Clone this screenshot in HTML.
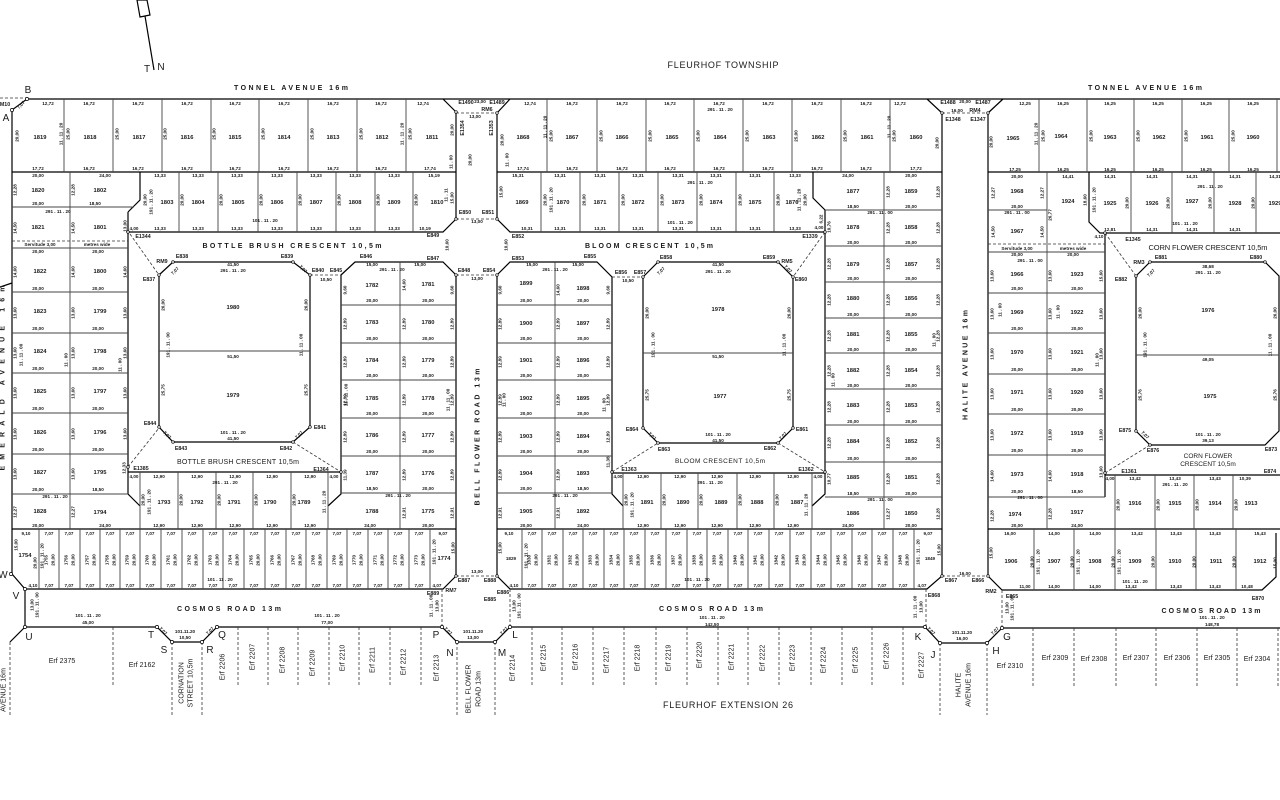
<!DOCTYPE html>
<html><head><meta charset="utf-8"><style>
body{margin:0;background:#fff}
svg{display:block}
text{font-family:"Liberation Sans",Arial,sans-serif;text-anchor:middle;fill:#1a1a1a}
.n{font-size:5.8px;font-weight:bold}
.m{font-size:4.6px;font-weight:bold}
.e{font-size:5.3px;font-weight:bold}
.L{font-size:10px}
.s{font-size:7px;font-weight:bold}
.E{font-size:7px}
.r{dominant-baseline:central}
.k{stroke:#000;stroke-width:1.2;fill:none}
.g{stroke:#444;stroke-width:0.9;fill:none}
.d{stroke:#333;stroke-width:0.8;fill:none;stroke-dasharray:3 2}
circle{fill:#fff;stroke:#000;stroke-width:0.7}
</style></head><body>
<svg width="1280" height="800" viewBox="0 0 1280 800" xmlns="http://www.w3.org/2000/svg">
<rect width="1280" height="800" fill="#fff"/>

<!-- North arrow -->
<path class="k" stroke-width="1" d="M137 0L147 0L150 15L140 17Z M145 16L154 70"/>
<text class="L" x="147" y="72">T</text><text class="L" x="161" y="70">N</text>

<text x="723" y="68" style="font-size:9px" textLength="111">FLEURHOF TOWNSHIP</text>
<text class="s" x="291" y="90" textLength="114" lengthAdjust="spacing">TONNEL AVENUE 16m</text>
<text class="s" x="1145" y="90" textLength="114" lengthAdjust="spacing">TONNEL AVENUE 16m</text>
<text class="L" x="28" y="93">B</text><text class="L" x="6" y="121">A</text>
<text class="e" x="5" y="106">M10</text>

<!-- THICK LINES -->
<path class="k" d="M27 99H1280
M12 574V110L27 99
M443 99L456 112V219L443 232H128
M128 212V494L140 506
M140 172V200L128 212
M12 172H456
M12 529H456
M341 275L355 262H443L456 275V576L443 589H25L12 574
M341 275V494L328 506
M128 472H341
M159 275L173 262H293L310 275V427L293 442H173L159 427Z
M497 113L510 99
M497 113V219L510 232H825
M813 172V198L825 210V494L812 506
M927 99L942 113V576L927 589H510L497 576V275L510 262H597L612 277V494L623 506
M612 473H825
M497 172H942
M497 529H942
M643 277L658 262H778L793 277V428L778 443H658L643 428Z
M988 113L1003 99
M988 113V576L1002 590H1262L1276 577V533
M988 172H1280
M1089 172V222L1100 233H1280
M1105 233V497
M1105 475H1280
M988 529H1280
M1136 276L1150 262H1265L1279 276V431L1265 445H1150L1136 431Z
M25 589V627H157L172 642H202L217 627H442L457 642H495L510 627H925L940 643H987L1002 628H1280
M25 627L10 642
M0 287L12 283"/>

<!-- GRAY LOT LINES -->
<path class="g" d="M64 99V172M113 99V172M162 99V172M211 99V172M259 99V172M308 99V172M357 99V172M406 99V172
M179 172V232M218 172V232M258 172V232M297 172V232M336 172V232M375 172V232M413 172V232
M70 172V529M12 207H134M12 248H128
M12 292H128M12 333H128M12 373H128M12 413H128M12 454H128M12 494H128
M400 262V529
M341 305H456M341 343H456M341 380H456M341 418H456M341 456H456M341 493H456
M159 351H310
M140 472V529M178 472V529M216 472V529M253 472V529M291 472V529M328 472V529
M39 529V589M59 529V589M80 529V589M100 529V589M120 529V589M140 529V589M161 529V589M182 529V589M203 529V589M223 529V589M244 529V589M265 529V589M286 529V589M306 529V589M327 529V589M347 529V589M368 529V589M388 529V589M409 529V589M430 529V589
M547 99V172M597 99V172M646 99V172M694 99V172M743 99V172M792 99V172M841 99V172M890 99V172
M541 172V232M580 172V232M619 172V232M658 172V232M697 172V232M736 172V232M774 172V232
M884 172V529
M825 210H942M825 246H942M825 282H942M825 318H942M825 353H942M825 389H942M825 425H942M825 462H942M825 497H942
M555 262V529
M497 305H612M497 343H612M497 380H612M497 418H612M497 456H612M497 493H612
M643 353H793
M623 473V529M661 473V529M698 473V529M737 473V529M774 473V529M812 473V529
M522 529V589M542 529V589M563 529V589M583 529V589M604 529V589M624 529V589M645 529V589M666 529V589M687 529V589M707 529V589M728 529V589M748 529V589M769 529V589M790 529V589M811 529V589M831 529V589M852 529V589M872 529V589M893 529V589M914 529V589
M1039 99V172M1087 99V172M1134 99V172M1182 99V172M1229 99V172M1277 99V172
M1047 172V529M988 210H1047M988 252H1105
M1131 172V233M1172 172V233M1214 172V233M1256 172V233
M988 293H1105M988 333H1105M988 374H1105M988 414H1105M988 455H1105M988 497H1105
M1136 355H1279
M1115 475V529M1155 475V529M1194 475V529M1233 475V529
M1034 529V590M1074 529V590M1115 529V590M1156 529V590M1196 529V590M1236 529V590"/>

<!-- DASHED -->
<path class="d" d="M0 98H27M12 241H128M988 244H1105
M310 275H341M130 234L159 275M128 467L159 428M293 442L341 472
M456 113H497M456 219H497M456 275H497M456 576H497
M612 277H643M825 232L793 277M612 472L658 443M778 443L825 472
M942 113H988M942 576H988M1105 233L1136 276M1105 473L1150 445
M442 589V627M510 589V627M926 589V627M1002 590V628
M10 642V715M172 642V715M202 642V715M457 642V715M495 642V715M940 643V715M987 643V715
M113 627V687M238 627V687M268 627V687M298 627V687M329 627V687M359 627V687M390 627V687M421 627V687
M532 627V687M562 627V687M593 627V687M624 627V687M656 627V687M687 627V687M718 627V687M748 627V687M779 627V687M811 627V687M842 627V687M872 627V687M903 627V687
M1033 628V687M1074 628V687M1116 628V687M1156 628V687M1197 628V687M1237 628V687M1278 628V687"/>

<!-- nodes -->
<g>
<circle cx="12" cy="110" r="1.6"/><circle cx="27" cy="99" r="1.6"/><circle cx="11" cy="574" r="1.6"/><circle cx="25" cy="589" r="1.6"/><circle cx="25" cy="627" r="1.6"/>
<circle cx="157" cy="627" r="1.6"/><circle cx="172" cy="642" r="1.6"/><circle cx="202" cy="642" r="1.6"/><circle cx="217" cy="627" r="1.6"/>
<circle cx="442" cy="627" r="1.6"/><circle cx="457" cy="642" r="1.6"/><circle cx="495" cy="642" r="1.6"/><circle cx="510" cy="627" r="1.6"/>
<circle cx="925" cy="627" r="1.6"/><circle cx="940" cy="643" r="1.6"/><circle cx="987" cy="643" r="1.6"/><circle cx="1002" cy="628" r="1.6"/>
<circle cx="173" cy="262" r="1.3"/><circle cx="293" cy="262" r="1.3"/><circle cx="159" cy="275" r="1.3"/><circle cx="310" cy="275" r="1.3"/><circle cx="159" cy="427" r="1.3"/><circle cx="173" cy="442" r="1.3"/><circle cx="293" cy="442" r="1.3"/><circle cx="310" cy="427" r="1.3"/>
<circle cx="658" cy="262" r="1.3"/><circle cx="778" cy="262" r="1.3"/><circle cx="643" cy="277" r="1.3"/><circle cx="793" cy="277" r="1.3"/><circle cx="643" cy="428" r="1.3"/><circle cx="658" cy="443" r="1.3"/><circle cx="778" cy="443" r="1.3"/><circle cx="793" cy="428" r="1.3"/>
<circle cx="1150" cy="262" r="1.3"/><circle cx="1136" cy="276" r="1.3"/><circle cx="1136" cy="431" r="1.3"/><circle cx="1150" cy="445" r="1.3"/><circle cx="1265" cy="262" r="1.3"/>
<circle cx="128" cy="232" r="1.3"/><circle cx="128" cy="467" r="1.3"/><circle cx="341" cy="472" r="1.3"/><circle cx="456" cy="219" r="1.3"/><circle cx="497" cy="219" r="1.3"/><circle cx="456" cy="275" r="1.3"/><circle cx="497" cy="275" r="1.3"/><circle cx="456" cy="576" r="1.3"/><circle cx="497" cy="576" r="1.3"/>
<circle cx="825" cy="232" r="1.3"/><circle cx="612" cy="472" r="1.3"/><circle cx="825" cy="472" r="1.3"/><circle cx="1105" cy="233" r="1.3"/><circle cx="1105" cy="473" r="1.3"/><circle cx="942" cy="576" r="1.3"/><circle cx="988" cy="576" r="1.3"/><circle cx="942" cy="113" r="1.3"/><circle cx="988" cy="113" r="1.3"/><circle cx="456" cy="112" r="1.3"/><circle cx="497" cy="113" r="1.3"/>
</g>

<!-- ROAD NAMES -->
<text class="s" x="292" y="248" textLength="179" lengthAdjust="spacing">BOTTLE BRUSH CRESCENT 10,5m</text>
<text class="s" x="649" y="248" textLength="128" lengthAdjust="spacing">BLOOM CRESCENT 10,5m</text>
<text class="s" x="1208" y="250" textLength="119" style="font-weight:normal;font-size:7.5px">CORN FLOWER CRESCENT 10,5m</text>
<text class="s" x="238" y="464" textLength="122" style="font-weight:normal;font-size:7px">BOTTLE BRUSH CRESCENT 10,5m</text>
<text class="s" x="720" y="463" textLength="90" style="font-weight:normal;font-size:6.5px">BLOOM CRESCENT 10,5m</text>
<text class="s" x="1208" y="458" style="font-weight:normal;font-size:6.5px">CORN FLOWER</text>
<text class="s" x="1208" y="466" style="font-weight:normal;font-size:6.5px">CRESCENT 10,5m</text>
<text class="s r" transform="translate(478 437)rotate(-90)" textLength="137" lengthAdjust="spacing">BELL FLOWER ROAD 13m</text>
<text class="s r" transform="translate(966 365)rotate(-90)" textLength="110" lengthAdjust="spacing">HALITE AVENUE 16m</text>
<text class="s r" transform="translate(3 378)rotate(-90)" textLength="185" lengthAdjust="spacing">EMERALD AVENUE 16m</text>
<text class="s" x="229" y="611" textLength="104" lengthAdjust="spacing">COSMOS ROAD 13m</text>
<text class="s" x="711" y="611" textLength="104" lengthAdjust="spacing">COSMOS ROAD 13m</text>
<text class="s" x="1211" y="613" textLength="99" lengthAdjust="spacing">COSMOS ROAD 13m</text>
<text x="728" y="708" style="font-size:9px" textLength="130">FLEURHOF EXTENSION 26</text>

<!-- Letters -->
<g class="L">
<text class="L" x="3" y="578">W</text><text class="L" x="16" y="599">V</text><text class="L" x="29" y="640">U</text>
<text class="L" x="151" y="638">T</text><text class="L" x="164" y="653">S</text><text class="L" x="210" y="653">R</text><text class="L" x="222" y="638">Q</text>
<text class="L" x="436" y="638">P</text><text class="L" x="450" y="656">N</text><text class="L" x="502" y="656">M</text><text class="L" x="515" y="638">L</text>
<text class="L" x="918" y="640">K</text><text class="L" x="933" y="658">J</text><text class="L" x="996" y="654">H</text><text class="L" x="1007" y="640">G</text>
</g>

<!-- ERF labels -->
<text class="E" x="62" y="663">Erf 2375</text>
<text class="E" x="142" y="667">Erf 2162</text>
<text class="E r" transform="translate(182 683)rotate(-90)">CORNATION</text>
<text class="E r" transform="translate(191 683)rotate(-90)">STREET 10,5m</text>
<text class="E r" transform="translate(223 667)rotate(-90)">Erf 2206</text>
<text class="E r" transform="translate(253 657)rotate(-90)">Erf 2207</text>
<text class="E r" transform="translate(283 660)rotate(-90)">Erf 2208</text>
<text class="E r" transform="translate(313 663)rotate(-90)">Erf 2209</text>
<text class="E r" transform="translate(343 658)rotate(-90)">Erf 2210</text>
<text class="E r" transform="translate(373 660)rotate(-90)">Erf 2211</text>
<text class="E r" transform="translate(404 662)rotate(-90)">Erf 2212</text>
<text class="E r" transform="translate(437 668)rotate(-90)">Erf 2213</text>
<text class="E r" transform="translate(469 689)rotate(-90)">BELL FLOWER</text>
<text class="E r" transform="translate(479 689)rotate(-90)">ROAD 13m</text>
<text class="E r" transform="translate(513 668)rotate(-90)">Erf 2214</text>
<text class="E r" transform="translate(544 658)rotate(-90)">Erf 2215</text>
<text class="E r" transform="translate(576 657)rotate(-90)">Erf 2216</text>
<text class="E r" transform="translate(607 660)rotate(-90)">Erf 2217</text>
<text class="E r" transform="translate(638 658)rotate(-90)">Erf 2218</text>
<text class="E r" transform="translate(669 658)rotate(-90)">Erf 2219</text>
<text class="E r" transform="translate(700 655)rotate(-90)">Erf 2220</text>
<text class="E r" transform="translate(732 657)rotate(-90)">Erf 2221</text>
<text class="E r" transform="translate(763 658)rotate(-90)">Erf 2222</text>
<text class="E r" transform="translate(793 658)rotate(-90)">Erf 2223</text>
<text class="E r" transform="translate(824 660)rotate(-90)">Erf 2224</text>
<text class="E r" transform="translate(856 660)rotate(-90)">Erf 2225</text>
<text class="E r" transform="translate(887 656)rotate(-90)">Erf 2226</text>
<text class="E r" transform="translate(922 665)rotate(-90)">Erf 2227</text>
<text class="E r" transform="translate(959 685)rotate(-90)">HALITE</text>
<text class="E r" transform="translate(969 685)rotate(-90)">AVENUE 16m</text>
<text class="E r" transform="translate(4 690)rotate(-90)">AVENUE 16m</text>
<text class="E" x="1010" y="668">Erf 2310</text>
<text class="E" x="1055" y="660">Erf 2309</text>
<text class="E" x="1094" y="661">Erf 2308</text>
<text class="E" x="1136" y="660">Erf 2307</text>
<text class="E" x="1177" y="660">Erf 2306</text>
<text class="E" x="1217" y="660">Erf 2305</text>
<text class="E" x="1257" y="661">Erf 2304</text>

<!-- ============ BLOCK A ============ -->
<g>
<text class="n" x="40" y="139">1819</text><text class="n" x="90" y="139">1818</text><text class="n" x="139" y="139">1817</text><text class="n" x="187" y="139">1816</text><text class="n" x="235" y="139">1815</text><text class="n" x="284" y="139">1814</text><text class="n" x="333" y="139">1813</text><text class="n" x="382" y="139">1812</text><text class="n" x="432" y="139">1811</text>
<text class="m" x="48" y="105">12,72</text><text class="m" x="89" y="105">16,72</text><text class="m" x="138" y="105">16,72</text><text class="m" x="187" y="105">16,72</text><text class="m" x="235" y="105">16,72</text><text class="m" x="284" y="105">16,72</text><text class="m" x="333" y="105">16,72</text><text class="m" x="381" y="105">16,72</text><text class="m" x="423" y="105">12,74</text>
<text class="m" x="38" y="170">17,72</text><text class="m" x="89" y="170">16,72</text><text class="m" x="138" y="170">16,72</text><text class="m" x="187" y="170">16,72</text><text class="m" x="235" y="170">16,72</text><text class="m" x="284" y="170">16,72</text><text class="m" x="333" y="170">16,72</text><text class="m" x="381" y="170">16,72</text><text class="m" x="430" y="170">17,74</text>
<text class="m r" transform="translate(17 136)rotate(-90)">20,00</text>
<text class="m r" transform="translate(68 134)rotate(-90)">25,00</text><text class="m r" transform="translate(117 134)rotate(-90)">25,00</text><text class="m r" transform="translate(165 134)rotate(-90)">25,00</text><text class="m r" transform="translate(214 134)rotate(-90)">25,00</text><text class="m r" transform="translate(263 134)rotate(-90)">25,00</text><text class="m r" transform="translate(312 134)rotate(-90)">25,00</text><text class="m r" transform="translate(361 134)rotate(-90)">25,00</text><text class="m r" transform="translate(410 134)rotate(-90)">25,00</text>
<text class="m r" transform="translate(452 130)rotate(-90)">20,00</text>
<text class="m r" transform="translate(61 134)rotate(-90)">11 . 11 . 20</text><text class="m r" transform="translate(402 134)rotate(-90)">11 . 11 . 20</text><text class="m r" transform="translate(451 162)rotate(-90)">11 . 00</text>
<text class="m" transform="translate(22 106)rotate(-45)">7,07</text>

<text class="n" x="38" y="192">1820</text><text class="n" x="100" y="192">1802</text><text class="n" x="38" y="229">1821</text><text class="n" x="100" y="229">1801</text>
<text class="n" x="167" y="204">1803</text><text class="n" x="198" y="204">1804</text><text class="n" x="238" y="204">1805</text><text class="n" x="277" y="204">1806</text><text class="n" x="316" y="204">1807</text><text class="n" x="355" y="204">1808</text><text class="n" x="394" y="204">1809</text><text class="n" x="437" y="204">1810</text>
<text class="m" x="38" y="177">20,00</text><text class="m" x="105" y="177">24,00</text><text class="m" x="38" y="205">20,00</text><text class="m" x="95" y="205">18,50</text><text class="m" x="58" y="213">291 . 11 . 20</text>
<text class="m" x="160" y="177">13,33</text><text class="m" x="198" y="177">13,33</text><text class="m" x="237" y="177">13,33</text><text class="m" x="277" y="177">13,33</text><text class="m" x="316" y="177">13,33</text><text class="m" x="355" y="177">13,33</text><text class="m" x="394" y="177">13,33</text><text class="m" x="434" y="177">15,19</text>
<text class="m" x="160" y="230">13,33</text><text class="m" x="198" y="230">13,33</text><text class="m" x="237" y="230">13,33</text><text class="m" x="277" y="230">13,33</text><text class="m" x="316" y="230">13,33</text><text class="m" x="355" y="230">13,33</text><text class="m" x="394" y="230">13,33</text><text class="m" x="425" y="230">10,19</text><text class="m" x="134" y="230">4,00</text>
<text class="m" x="265" y="222">101 . 11 . 20</text>
<text class="m r" transform="translate(15 190)rotate(-90)">12,28</text><text class="m r" transform="translate(73 190)rotate(-90)">12,28</text><text class="m r" transform="translate(15 228)rotate(-90)">14,50</text><text class="m r" transform="translate(73 228)rotate(-90)">14,50</text><text class="m r" transform="translate(125 226)rotate(-90)">13,00</text>
<text class="m r" transform="translate(145 200)rotate(-90)">20,00</text><text class="m r" transform="translate(182 200)rotate(-90)">20,00</text><text class="m r" transform="translate(221 200)rotate(-90)">20,00</text><text class="m r" transform="translate(261 200)rotate(-90)">20,00</text><text class="m r" transform="translate(300 200)rotate(-90)">20,00</text><text class="m r" transform="translate(339 200)rotate(-90)">20,00</text><text class="m r" transform="translate(378 200)rotate(-90)">20,00</text><text class="m r" transform="translate(416 200)rotate(-90)">20,00</text>
<text class="m r" transform="translate(151 202)rotate(-90)">191 . 11 . 20</text><text class="m r" transform="translate(452 198)rotate(-90)">15,00</text><text class="m r" transform="translate(446 195)rotate(-90)">11 . 11</text>
<text class="m" x="40" y="246">Servitude  3,00</text><text class="m" x="97" y="246">metres  wide</text>

<text class="n" x="40" y="273">1822</text><text class="n" x="100" y="273">1800</text><text class="n" x="40" y="313">1823</text><text class="n" x="100" y="313">1799</text><text class="n" x="40" y="353">1824</text><text class="n" x="100" y="353">1798</text><text class="n" x="40" y="393">1825</text><text class="n" x="100" y="393">1797</text><text class="n" x="40" y="434">1826</text><text class="n" x="100" y="434">1796</text><text class="n" x="40" y="474">1827</text><text class="n" x="100" y="474">1795</text><text class="n" x="40" y="513">1828</text><text class="n" x="100" y="514">1794</text>
<text class="m" x="38" y="253">20,00</text><text class="m" x="98" y="253">20,00</text>
<text class="m" x="38" y="290">20,00</text><text class="m" x="98" y="290">20,00</text><text class="m" x="38" y="330">20,00</text><text class="m" x="98" y="330">20,00</text><text class="m" x="38" y="370">20,00</text><text class="m" x="98" y="370">20,00</text><text class="m" x="38" y="410">20,00</text><text class="m" x="98" y="410">20,00</text><text class="m" x="38" y="451">20,00</text><text class="m" x="98" y="451">20,00</text><text class="m" x="38" y="491">20,00</text><text class="m" x="98" y="491">18,50</text><text class="m" x="38" y="527">20,00</text><text class="m" x="105" y="527">24,00</text><text class="m" x="55" y="498">291 . 11 . 20</text>
<text class="m r" transform="translate(15 272)rotate(-90)">14,60</text><text class="m r" transform="translate(15 313)rotate(-90)">13,60</text><text class="m r" transform="translate(15 353)rotate(-90)">13,60</text><text class="m r" transform="translate(15 393)rotate(-90)">13,60</text><text class="m r" transform="translate(15 434)rotate(-90)">13,60</text><text class="m r" transform="translate(15 474)rotate(-90)">13,60</text><text class="m r" transform="translate(15 512)rotate(-90)">12,27</text>
<text class="m r" transform="translate(73 272)rotate(-90)">14,60</text><text class="m r" transform="translate(73 313)rotate(-90)">13,60</text><text class="m r" transform="translate(73 353)rotate(-90)">13,60</text><text class="m r" transform="translate(73 393)rotate(-90)">13,60</text><text class="m r" transform="translate(73 434)rotate(-90)">13,60</text><text class="m r" transform="translate(73 474)rotate(-90)">13,60</text><text class="m r" transform="translate(73 512)rotate(-90)">12,27</text>
<text class="m r" transform="translate(125 272)rotate(-90)">14,60</text><text class="m r" transform="translate(125 313)rotate(-90)">13,60</text><text class="m r" transform="translate(125 353)rotate(-90)">13,60</text><text class="m r" transform="translate(125 393)rotate(-90)">13,60</text><text class="m r" transform="translate(125 434)rotate(-90)">13,60</text><text class="m r" transform="translate(124 468)rotate(-90)">12,33</text>
<text class="m r" transform="translate(21 355)rotate(-90)">11 . 11 . 00</text><text class="m r" transform="translate(66 360)rotate(-90)">11 . 00</text><text class="m r" transform="translate(120 365)rotate(-90)">11 . 00</text>

<text class="n" x="233" y="309">1980</text><text class="n" x="233" y="397">1979</text>
<text class="m" x="233" y="266">41,50</text><text class="m" x="233" y="272">291 . 11 . 20</text><text class="m" x="233" y="358">51,50</text><text class="m" x="233" y="434">101 . 11 . 20</text><text class="m" x="233" y="440">41,50</text>
<text class="m r" transform="translate(163 305)rotate(-90)">26,00</text><text class="m r" transform="translate(306 305)rotate(-90)">26,00</text><text class="m r" transform="translate(163 390)rotate(-90)">25,75</text><text class="m r" transform="translate(306 390)rotate(-90)">25,75</text>
<text class="m r" transform="translate(168 345)rotate(-90)">191 . 11 . 00</text><text class="m r" transform="translate(301 345)rotate(-90)">11 . 11 . 00</text>
<text class="e" x="162" y="263">RM9</text><text class="e" x="182" y="258">E838</text><text class="e" x="287" y="258">E839</text><text class="e" x="149" y="281">E837</text><text class="e" x="318" y="272">E840</text><text class="e" x="336" y="272">E845</text><text class="e" x="366" y="258">E846</text><text class="e" x="433" y="260">E847</text><text class="e" x="433" y="237">E849</text><text class="e" x="143" y="238">E1344</text><text class="e" x="150" y="425">E844</text><text class="e" x="181" y="450">E843</text><text class="e" x="286" y="450">E842</text><text class="e" x="320" y="429">E841</text><text class="e" x="141" y="470">E1385</text><text class="e" x="321" y="471">E1364</text>
<text class="m" x="326" y="281">10,50</text>
<text class="m" transform="translate(176 272)rotate(-45)">7,07</text><text class="m" transform="translate(302 270)rotate(45)">7,07</text><text class="m" transform="translate(166 436)rotate(45)">7,07</text><text class="m" transform="translate(300 436)rotate(-45)">7,07</text>

<text class="n" x="372" y="287">1782</text><text class="n" x="428" y="286">1781</text><text class="n" x="372" y="324">1783</text><text class="n" x="428" y="324">1780</text><text class="n" x="372" y="362">1784</text><text class="n" x="428" y="362">1779</text><text class="n" x="372" y="400">1785</text><text class="n" x="428" y="400">1778</text><text class="n" x="372" y="437">1786</text><text class="n" x="428" y="437">1777</text><text class="n" x="372" y="475">1787</text><text class="n" x="428" y="475">1776</text><text class="n" x="372" y="513">1788</text><text class="n" x="428" y="513">1775</text>
<text class="m" x="372" y="266">15,00</text><text class="m" x="420" y="266">15,00</text><text class="m" x="392" y="271">291 . 11 . 20</text>
<text class="m" x="372" y="302">20,00</text><text class="m" x="428" y="302">20,00</text><text class="m" x="372" y="340">20,00</text><text class="m" x="428" y="340">20,00</text><text class="m" x="372" y="377">20,00</text><text class="m" x="428" y="377">20,00</text><text class="m" x="372" y="415">20,00</text><text class="m" x="428" y="415">20,00</text><text class="m" x="372" y="453">20,00</text><text class="m" x="428" y="453">20,00</text><text class="m" x="372" y="490">18,50</text><text class="m" x="428" y="490">20,00</text><text class="m" x="370" y="527">24,00</text><text class="m" x="428" y="527">20,00</text><text class="m" x="398" y="497">291 . 11 . 20</text>
<text class="m r" transform="translate(345 290)rotate(-90)">9,60</text><text class="m r" transform="translate(345 324)rotate(-90)">12,89</text><text class="m r" transform="translate(345 362)rotate(-90)">12,89</text><text class="m r" transform="translate(345 400)rotate(-90)">12,89</text><text class="m r" transform="translate(345 437)rotate(-90)">12,89</text><text class="m r" transform="translate(345 475)rotate(-90)">11,39</text>
<text class="m r" transform="translate(404 285)rotate(-90)">14,60</text><text class="m r" transform="translate(404 324)rotate(-90)">12,89</text><text class="m r" transform="translate(404 362)rotate(-90)">12,89</text><text class="m r" transform="translate(404 400)rotate(-90)">12,89</text><text class="m r" transform="translate(404 437)rotate(-90)">12,89</text><text class="m r" transform="translate(404 475)rotate(-90)">12,89</text><text class="m r" transform="translate(404 513)rotate(-90)">12,91</text>
<text class="m r" transform="translate(452 290)rotate(-90)">9,60</text><text class="m r" transform="translate(452 324)rotate(-90)">12,89</text><text class="m r" transform="translate(452 362)rotate(-90)">12,89</text><text class="m r" transform="translate(452 400)rotate(-90)">12,89</text><text class="m r" transform="translate(452 437)rotate(-90)">12,89</text><text class="m r" transform="translate(452 475)rotate(-90)">12,89</text><text class="m r" transform="translate(452 513)rotate(-90)">12,91</text>
<text class="m r" transform="translate(346 395)rotate(-90)">11 . 11 . 00</text><text class="m r" transform="translate(448 400)rotate(-90)">11 . 11 . 00</text>

<text class="n" x="164" y="504">1793</text><text class="n" x="197" y="504">1792</text><text class="n" x="234" y="504">1791</text><text class="n" x="270" y="504">1790</text><text class="n" x="304" y="504">1789</text>
<text class="m" x="159" y="478">12,90</text><text class="m" x="197" y="478">12,90</text><text class="m" x="235" y="478">12,90</text><text class="m" x="272" y="478">12,90</text><text class="m" x="310" y="478">12,90</text><text class="m" x="134" y="478">4,00</text><text class="m" x="334" y="478">4,00</text>
<text class="m" x="159" y="527">12,90</text><text class="m" x="197" y="527">12,90</text><text class="m" x="235" y="527">12,90</text><text class="m" x="272" y="527">12,90</text><text class="m" x="310" y="527">12,90</text><text class="m" x="225" y="484">291 . 11 . 20</text>
<text class="m r" transform="translate(143 500)rotate(-90)">20,00</text><text class="m r" transform="translate(181 500)rotate(-90)">20,00</text><text class="m r" transform="translate(219 500)rotate(-90)">20,00</text><text class="m r" transform="translate(256 500)rotate(-90)">20,00</text><text class="m r" transform="translate(294 500)rotate(-90)">20,00</text>
<text class="m r" transform="translate(149 502)rotate(-90)">191 . 11 . 20</text><text class="m r" transform="translate(324 502)rotate(-90)">11 . 11 . 20</text>

<!-- small lots A -->
<text class="m" x="26" y="535">9,10</text><text class="m" x="33" y="587">4,10</text><text class="n" x="25" y="557">1754</text><text class="m r" transform="translate(16 545)rotate(-90)">15,00</text><text class="m r" transform="translate(35 563)rotate(-90)">20,00</text>
<text class="m" x="49" y="535">7,07</text><text class="m" x="49" y="587">7,07</text><text class="m r" transform="translate(46 560)rotate(-90)">1755</text><text class="m r" transform="translate(53 560)rotate(-90)">20,00</text>
<text class="m" x="69" y="535">7,07</text><text class="m" x="69" y="587">7,07</text><text class="m r" transform="translate(66 560)rotate(-90)">1756</text><text class="m r" transform="translate(73 560)rotate(-90)">20,00</text>
<text class="m" x="90" y="535">7,07</text><text class="m" x="90" y="587">7,07</text><text class="m r" transform="translate(87 560)rotate(-90)">1757</text><text class="m r" transform="translate(94 560)rotate(-90)">20,00</text>
<text class="m" x="110" y="535">7,07</text><text class="m" x="110" y="587">7,07</text><text class="m r" transform="translate(107 560)rotate(-90)">1758</text><text class="m r" transform="translate(114 560)rotate(-90)">20,00</text>
<text class="m" x="130" y="535">7,07</text><text class="m" x="130" y="587">7,07</text><text class="m r" transform="translate(127 560)rotate(-90)">1759</text><text class="m r" transform="translate(134 560)rotate(-90)">20,00</text>
<text class="m" x="150" y="535">7,07</text><text class="m" x="150" y="587">7,07</text><text class="m r" transform="translate(147 560)rotate(-90)">1760</text><text class="m r" transform="translate(154 560)rotate(-90)">20,00</text>
<text class="m" x="171" y="535">7,07</text><text class="m" x="171" y="587">7,07</text><text class="m r" transform="translate(168 560)rotate(-90)">1761</text><text class="m r" transform="translate(175 560)rotate(-90)">20,00</text>
<text class="m" x="192" y="535">7,07</text><text class="m" x="192" y="587">7,07</text><text class="m r" transform="translate(189 560)rotate(-90)">1762</text><text class="m r" transform="translate(196 560)rotate(-90)">20,00</text>
<text class="m" x="213" y="535">7,07</text><text class="m" x="213" y="587">7,07</text><text class="m r" transform="translate(210 560)rotate(-90)">1763</text><text class="m r" transform="translate(217 560)rotate(-90)">20,00</text>
<text class="m" x="233" y="535">7,07</text><text class="m" x="233" y="587">7,07</text><text class="m r" transform="translate(230 560)rotate(-90)">1764</text><text class="m r" transform="translate(237 560)rotate(-90)">20,00</text>
<text class="m" x="254" y="535">7,07</text><text class="m" x="254" y="587">7,07</text><text class="m r" transform="translate(251 560)rotate(-90)">1765</text><text class="m r" transform="translate(258 560)rotate(-90)">20,00</text>
<text class="m" x="275" y="535">7,07</text><text class="m" x="275" y="587">7,07</text><text class="m r" transform="translate(272 560)rotate(-90)">1766</text><text class="m r" transform="translate(279 560)rotate(-90)">20,00</text>
<text class="m" x="296" y="535">7,07</text><text class="m" x="296" y="587">7,07</text><text class="m r" transform="translate(293 560)rotate(-90)">1767</text><text class="m r" transform="translate(300 560)rotate(-90)">20,00</text>
<text class="m" x="316" y="535">7,07</text><text class="m" x="316" y="587">7,07</text><text class="m r" transform="translate(313 560)rotate(-90)">1768</text><text class="m r" transform="translate(320 560)rotate(-90)">20,00</text>
<text class="m" x="337" y="535">7,07</text><text class="m" x="337" y="587">7,07</text><text class="m r" transform="translate(334 560)rotate(-90)">1769</text><text class="m r" transform="translate(341 560)rotate(-90)">20,00</text>
<text class="m" x="357" y="535">7,07</text><text class="m" x="357" y="587">7,07</text><text class="m r" transform="translate(354 560)rotate(-90)">1770</text><text class="m r" transform="translate(361 560)rotate(-90)">20,00</text>
<text class="m" x="378" y="535">7,07</text><text class="m" x="378" y="587">7,07</text><text class="m r" transform="translate(375 560)rotate(-90)">1771</text><text class="m r" transform="translate(382 560)rotate(-90)">20,00</text>
<text class="m" x="398" y="535">7,07</text><text class="m" x="398" y="587">7,07</text><text class="m r" transform="translate(395 560)rotate(-90)">1772</text><text class="m r" transform="translate(402 560)rotate(-90)">20,00</text>
<text class="m" x="419" y="535">7,07</text><text class="m" x="419" y="587">7,07</text><text class="m r" transform="translate(416 560)rotate(-90)">1773</text><text class="m r" transform="translate(423 560)rotate(-90)">20,00</text>
<text class="m" x="443" y="535">9,07</text><text class="m" x="437" y="587">4,07</text><text class="n" x="444" y="560">1774</text><text class="m r" transform="translate(453 548)rotate(-90)">15,00</text><text class="m r" transform="translate(434 552)rotate(-90)">191 . 11 . 20</text>
<text class="m r" transform="translate(42 556)rotate(-90)">191 . 11 . 20</text>
<text class="m" x="220" y="581">101  .  11  .  20</text>
</g>

<!-- Bell flower crossing labels -->
<g>
<text class="e" x="466" y="104">E1490</text><text class="m" x="480" y="103">23,00</text><text class="e" x="497" y="104">E1489</text><text class="e" x="487" y="111">RM6</text><text class="m" x="475" y="118">13,00</text>
<text class="e r" transform="translate(463 128)rotate(-90)">E1354</text><text class="e r" transform="translate(492 128)rotate(-90)">E1353</text>
<text class="m r" transform="translate(470 160)rotate(-90)">20,00</text>
<text class="e" x="465" y="214">E850</text><text class="e" x="488" y="214">E851</text><text class="m" x="477" y="223">13,00</text>
<text class="e" x="464" y="272">E848</text><text class="e" x="489" y="272">E854</text><text class="m" x="477" y="280">13,00</text>
<text class="m r" transform="translate(447 245)rotate(-90)">10,60</text><text class="m r" transform="translate(506 245)rotate(-90)">10,60</text>
<text class="m" x="477" y="573">13,00</text><text class="e" x="464" y="582">E887</text><text class="e" x="490" y="582">E888</text>
<text class="e" x="433" y="595">E889</text><text class="e" x="451" y="592">RM7</text><text class="e" x="503" y="594">E886</text><text class="e" x="490" y="601">E885</text>
</g>

<!-- ============ BLOCK B ============ -->
<g>
<text class="n" x="523" y="139">1868</text><text class="n" x="572" y="139">1867</text><text class="n" x="622" y="139">1866</text><text class="n" x="672" y="139">1865</text><text class="n" x="720" y="139">1864</text><text class="n" x="769" y="139">1863</text><text class="n" x="818" y="139">1862</text><text class="n" x="867" y="139">1861</text><text class="n" x="916" y="139">1860</text>
<text class="m" x="530" y="105">12,74</text><text class="m" x="572" y="105">16,72</text><text class="m" x="622" y="105">16,72</text><text class="m" x="670" y="105">16,72</text><text class="m" x="719" y="105">16,72</text><text class="m" x="768" y="105">16,72</text><text class="m" x="817" y="105">16,72</text><text class="m" x="866" y="105">16,72</text><text class="m" x="900" y="105">12,72</text><text class="m" x="720" y="111">291  .  11  .  20</text>
<text class="m" x="523" y="170">17,74</text><text class="m" x="572" y="170">16,72</text><text class="m" x="622" y="170">16,72</text><text class="m" x="670" y="170">16,72</text><text class="m" x="719" y="170">16,72</text><text class="m" x="768" y="170">16,72</text><text class="m" x="817" y="170">16,72</text><text class="m" x="866" y="170">16,72</text><text class="m" x="916" y="170">17,72</text>
<text class="m r" transform="translate(502 140)rotate(-90)">20,00</text><text class="m r" transform="translate(551 136)rotate(-90)">25,00</text><text class="m r" transform="translate(601 136)rotate(-90)">25,00</text><text class="m r" transform="translate(650 136)rotate(-90)">25,00</text><text class="m r" transform="translate(698 136)rotate(-90)">25,00</text><text class="m r" transform="translate(747 136)rotate(-90)">25,00</text><text class="m r" transform="translate(796 136)rotate(-90)">25,00</text><text class="m r" transform="translate(845 136)rotate(-90)">25,00</text><text class="m r" transform="translate(894 136)rotate(-90)">25,00</text><text class="m r" transform="translate(937 143)rotate(-90)">20,00</text>
<text class="m r" transform="translate(545 127)rotate(-90)">11 . 11 . 20</text><text class="m r" transform="translate(889 127)rotate(-90)">11 . 11 . 20</text><text class="m r" transform="translate(507 160)rotate(-90)">11 . 00</text>

<text class="n" x="522" y="204">1869</text><text class="n" x="563" y="204">1870</text><text class="n" x="600" y="204">1871</text><text class="n" x="638" y="204">1872</text><text class="n" x="678" y="204">1873</text><text class="n" x="716" y="204">1874</text><text class="n" x="755" y="204">1875</text><text class="n" x="792" y="204">1876</text>
<text class="m" x="518" y="177">15,31</text><text class="m" x="560" y="177">13,31</text><text class="m" x="600" y="177">13,31</text><text class="m" x="638" y="177">13,31</text><text class="m" x="678" y="177">13,31</text><text class="m" x="716" y="177">13,31</text><text class="m" x="755" y="177">13,31</text><text class="m" x="795" y="177">13,33</text><text class="m" x="700" y="184">291  .  11  .  20</text>
<text class="m" x="527" y="230">10,31</text><text class="m" x="560" y="230">13,31</text><text class="m" x="600" y="230">13,31</text><text class="m" x="638" y="230">13,31</text><text class="m" x="678" y="230">13,31</text><text class="m" x="716" y="230">13,31</text><text class="m" x="755" y="230">13,31</text><text class="m" x="795" y="230">13,33</text><text class="m" x="680" y="224">101  .  11  .  20</text><text class="m" x="819" y="229">4,00</text>
<text class="m r" transform="translate(501 192)rotate(-90)">15,00</text><text class="m r" transform="translate(545 200)rotate(-90)">20,00</text><text class="m r" transform="translate(584 200)rotate(-90)">20,00</text><text class="m r" transform="translate(623 200)rotate(-90)">20,00</text><text class="m r" transform="translate(662 200)rotate(-90)">20,00</text><text class="m r" transform="translate(701 200)rotate(-90)">20,00</text><text class="m r" transform="translate(740 200)rotate(-90)">20,00</text><text class="m r" transform="translate(778 200)rotate(-90)">20,00</text><text class="m r" transform="translate(805 200)rotate(-90)">20,00</text>
<text class="m r" transform="translate(551 200)rotate(-90)">191 . 11 . 20</text><text class="m r" transform="translate(799 200)rotate(-90)">11 . 11 . 20</text><text class="m r" transform="translate(821 219)rotate(-90)">6,22</text><text class="m r" transform="translate(829 227)rotate(-90)">10,76</text>

<text class="n" x="853" y="193">1877</text><text class="n" x="911" y="193">1859</text><text class="n" x="853" y="229">1878</text><text class="n" x="911" y="229">1858</text><text class="n" x="853" y="266">1879</text><text class="n" x="911" y="266">1857</text><text class="n" x="853" y="300">1880</text><text class="n" x="911" y="300">1856</text><text class="n" x="853" y="336">1881</text><text class="n" x="911" y="336">1855</text><text class="n" x="853" y="372">1882</text><text class="n" x="911" y="372">1854</text><text class="n" x="853" y="407">1883</text><text class="n" x="911" y="407">1853</text><text class="n" x="853" y="443">1884</text><text class="n" x="911" y="443">1852</text><text class="n" x="853" y="479">1885</text><text class="n" x="911" y="479">1851</text><text class="n" x="853" y="515">1886</text><text class="n" x="911" y="515">1850</text>
<text class="m" x="848" y="177">24,00</text><text class="m" x="911" y="177">20,00</text><text class="m" x="880" y="214">291 . 11 . 00</text>
<text class="m" x="853" y="208">18,50</text><text class="m" x="911" y="208">20,00</text><text class="m" x="853" y="244">20,00</text><text class="m" x="911" y="244">20,00</text><text class="m" x="853" y="280">20,00</text><text class="m" x="911" y="280">20,00</text><text class="m" x="853" y="316">20,00</text><text class="m" x="911" y="316">20,00</text><text class="m" x="853" y="351">20,00</text><text class="m" x="911" y="351">20,00</text><text class="m" x="853" y="387">20,00</text><text class="m" x="911" y="387">20,00</text><text class="m" x="853" y="423">20,00</text><text class="m" x="911" y="423">20,00</text><text class="m" x="853" y="460">20,00</text><text class="m" x="911" y="460">20,00</text><text class="m" x="853" y="495">18,50</text><text class="m" x="911" y="495">20,00</text><text class="m" x="848" y="527">24,00</text><text class="m" x="911" y="527">20,00</text><text class="m" x="880" y="501">291 . 11 . 00</text>
<text class="m r" transform="translate(888 192)rotate(-90)">12,28</text><text class="m r" transform="translate(938 192)rotate(-90)">12,28</text>
<text class="m r" transform="translate(829 264)rotate(-90)">12,28</text><text class="m r" transform="translate(888 228)rotate(-90)">12,28</text><text class="m r" transform="translate(938 228)rotate(-90)">12,28</text><text class="m r" transform="translate(888 264)rotate(-90)">12,28</text><text class="m r" transform="translate(938 264)rotate(-90)">12,28</text>
<text class="m r" transform="translate(829 300)rotate(-90)">12,28</text><text class="m r" transform="translate(888 300)rotate(-90)">12,28</text><text class="m r" transform="translate(938 300)rotate(-90)">12,28</text>
<text class="m r" transform="translate(829 336)rotate(-90)">12,28</text><text class="m r" transform="translate(888 336)rotate(-90)">12,28</text><text class="m r" transform="translate(938 336)rotate(-90)">12,28</text>
<text class="m r" transform="translate(829 371)rotate(-90)">12,28</text><text class="m r" transform="translate(888 371)rotate(-90)">12,28</text><text class="m r" transform="translate(938 371)rotate(-90)">12,28</text>
<text class="m r" transform="translate(829 407)rotate(-90)">12,28</text><text class="m r" transform="translate(888 407)rotate(-90)">12,28</text><text class="m r" transform="translate(938 407)rotate(-90)">12,28</text>
<text class="m r" transform="translate(829 443)rotate(-90)">12,28</text><text class="m r" transform="translate(888 443)rotate(-90)">12,28</text><text class="m r" transform="translate(938 443)rotate(-90)">12,28</text>
<text class="m r" transform="translate(829 479)rotate(-90)">10,77</text><text class="m r" transform="translate(888 479)rotate(-90)">12,28</text><text class="m r" transform="translate(938 479)rotate(-90)">12,28</text>
<text class="m r" transform="translate(888 514)rotate(-90)">12,27</text><text class="m r" transform="translate(938 514)rotate(-90)">12,28</text>
<text class="m r" transform="translate(833 380)rotate(-90)">11 . 00</text><text class="m r" transform="translate(934 340)rotate(-90)">11 . 00</text>

<text class="n" x="526" y="285">1899</text><text class="n" x="583" y="290">1898</text><text class="n" x="526" y="325">1900</text><text class="n" x="583" y="325">1897</text><text class="n" x="526" y="362">1901</text><text class="n" x="583" y="362">1896</text><text class="n" x="526" y="400">1902</text><text class="n" x="583" y="400">1895</text><text class="n" x="526" y="438">1903</text><text class="n" x="583" y="438">1894</text><text class="n" x="526" y="475">1904</text><text class="n" x="583" y="475">1893</text><text class="n" x="526" y="513">1905</text><text class="n" x="583" y="513">1892</text>
<text class="m" x="532" y="266">15,00</text><text class="m" x="578" y="266">15,00</text><text class="m" x="555" y="271">291 . 11 . 20</text>
<text class="m" x="526" y="302">20,00</text><text class="m" x="583" y="302">20,00</text><text class="m" x="526" y="340">20,00</text><text class="m" x="583" y="340">20,00</text><text class="m" x="526" y="377">20,00</text><text class="m" x="583" y="377">20,00</text><text class="m" x="526" y="415">20,00</text><text class="m" x="583" y="415">20,00</text><text class="m" x="526" y="453">20,00</text><text class="m" x="583" y="453">20,00</text><text class="m" x="526" y="490">20,00</text><text class="m" x="583" y="490">18,50</text><text class="m" x="526" y="527">20,00</text><text class="m" x="583" y="527">24,00</text><text class="m" x="565" y="497">291 . 11 . 20</text>
<text class="m r" transform="translate(500 290)rotate(-90)">9,60</text><text class="m r" transform="translate(500 324)rotate(-90)">12,89</text><text class="m r" transform="translate(500 362)rotate(-90)">12,89</text><text class="m r" transform="translate(500 400)rotate(-90)">12,89</text><text class="m r" transform="translate(500 437)rotate(-90)">12,89</text><text class="m r" transform="translate(500 475)rotate(-90)">12,89</text><text class="m r" transform="translate(500 513)rotate(-90)">12,91</text>
<text class="m r" transform="translate(558 290)rotate(-90)">14,60</text><text class="m r" transform="translate(558 324)rotate(-90)">12,89</text><text class="m r" transform="translate(558 362)rotate(-90)">12,89</text><text class="m r" transform="translate(558 400)rotate(-90)">12,89</text><text class="m r" transform="translate(558 437)rotate(-90)">12,89</text><text class="m r" transform="translate(558 475)rotate(-90)">12,89</text><text class="m r" transform="translate(558 513)rotate(-90)">12,91</text>
<text class="m r" transform="translate(608 290)rotate(-90)">9,60</text><text class="m r" transform="translate(608 324)rotate(-90)">12,89</text><text class="m r" transform="translate(608 362)rotate(-90)">12,89</text><text class="m r" transform="translate(608 400)rotate(-90)">12,89</text><text class="m r" transform="translate(608 437)rotate(-90)">12,89</text><text class="m r" transform="translate(608 462)rotate(-90)">11,38</text>
<text class="m r" transform="translate(504 400)rotate(-90)">11 . 00</text><text class="m r" transform="translate(604 405)rotate(-90)">11 . 00</text>

<text class="n" x="718" y="311">1978</text><text class="n" x="720" y="398">1977</text>
<text class="m" x="718" y="266">41,50</text><text class="m" x="718" y="273">291 . 11 . 20</text><text class="m" x="718" y="358">51,50</text><text class="m" x="718" y="436">101 . 11 . 20</text><text class="m" x="718" y="442">41,50</text><text class="m" x="628" y="282">10,50</text>
<text class="m r" transform="translate(647 313)rotate(-90)">26,00</text><text class="m r" transform="translate(789 313)rotate(-90)">26,00</text><text class="m r" transform="translate(647 395)rotate(-90)">25,75</text><text class="m r" transform="translate(789 395)rotate(-90)">25,75</text>
<text class="m r" transform="translate(653 345)rotate(-90)">191 . 11 . 00</text><text class="m r" transform="translate(784 345)rotate(-90)">11 . 11 . 00</text>
<text class="e" x="518" y="238">E852</text><text class="e" x="518" y="260">E853</text><text class="e" x="590" y="258">E855</text><text class="e" x="621" y="274">E856</text><text class="e" x="640" y="274">E857</text><text class="e" x="666" y="259">E858</text><text class="e" x="769" y="259">E859</text><text class="e" x="787" y="263">RM5</text><text class="e" x="801" y="281">E860</text><text class="e" x="632" y="431">E864</text><text class="e" x="664" y="451">E863</text><text class="e" x="770" y="450">E862</text><text class="e" x="802" y="431">E861</text><text class="e" x="629" y="471">E1363</text><text class="e" x="806" y="471">E1362</text><text class="e" x="810" y="238">E1339</text>
<text class="m" transform="translate(662 272)rotate(-45)">7,07</text><text class="m" transform="translate(787 270)rotate(45)">7,07</text><text class="m" transform="translate(651 437)rotate(45)">7,07</text><text class="m" transform="translate(784 437)rotate(-45)">7,07</text>

<text class="n" x="647" y="504">1891</text><text class="n" x="683" y="504">1890</text><text class="n" x="721" y="504">1889</text><text class="n" x="757" y="504">1888</text><text class="n" x="797" y="504">1887</text>
<text class="m" x="618" y="478">4,00</text><text class="m" x="643" y="478">12,90</text><text class="m" x="680" y="478">12,90</text><text class="m" x="717" y="478">12,90</text><text class="m" x="755" y="478">12,90</text><text class="m" x="793" y="478">12,90</text><text class="m" x="818" y="478">4,00</text><text class="m" x="710" y="484">291  .  11  .  20</text>
<text class="m" x="643" y="527">12,90</text><text class="m" x="680" y="527">12,90</text><text class="m" x="717" y="527">12,90</text><text class="m" x="755" y="527">12,90</text><text class="m" x="793" y="527">12,90</text>
<text class="m r" transform="translate(626 500)rotate(-90)">20,00</text><text class="m r" transform="translate(664 500)rotate(-90)">20,00</text><text class="m r" transform="translate(701 500)rotate(-90)">20,00</text><text class="m r" transform="translate(740 500)rotate(-90)">20,00</text><text class="m r" transform="translate(777 500)rotate(-90)">20,00</text>
<text class="m r" transform="translate(632 505)rotate(-90)">191 . 11 . 20</text><text class="m r" transform="translate(806 505)rotate(-90)">11 . 11 . 20</text>

<!-- small lots B -->
<text class="m" x="509" y="535">9,10</text><text class="m" x="514" y="587">4,10</text><text class="m" x="511" y="560">1829</text><text class="m r" transform="translate(500 548)rotate(-90)">15,00</text>
<text class="m" x="532" y="535">7,07</text><text class="m" x="532" y="587">7,07</text><text class="m r" transform="translate(529 560)rotate(-90)">1830</text><text class="m r" transform="translate(536 560)rotate(-90)">20,00</text>
<text class="m" x="552" y="535">7,07</text><text class="m" x="552" y="587">7,07</text><text class="m r" transform="translate(549 560)rotate(-90)">1831</text><text class="m r" transform="translate(556 560)rotate(-90)">20,00</text>
<text class="m" x="573" y="535">7,07</text><text class="m" x="573" y="587">7,07</text><text class="m r" transform="translate(570 560)rotate(-90)">1832</text><text class="m r" transform="translate(577 560)rotate(-90)">20,00</text>
<text class="m" x="593" y="535">7,07</text><text class="m" x="593" y="587">7,07</text><text class="m r" transform="translate(590 560)rotate(-90)">1833</text><text class="m r" transform="translate(597 560)rotate(-90)">20,00</text>
<text class="m" x="614" y="535">7,07</text><text class="m" x="614" y="587">7,07</text><text class="m r" transform="translate(611 560)rotate(-90)">1834</text><text class="m r" transform="translate(618 560)rotate(-90)">20,00</text>
<text class="m" x="634" y="535">7,07</text><text class="m" x="634" y="587">7,07</text><text class="m r" transform="translate(631 560)rotate(-90)">1835</text><text class="m r" transform="translate(638 560)rotate(-90)">20,00</text>
<text class="m" x="655" y="535">7,07</text><text class="m" x="655" y="587">7,07</text><text class="m r" transform="translate(652 560)rotate(-90)">1836</text><text class="m r" transform="translate(659 560)rotate(-90)">20,00</text>
<text class="m" x="676" y="535">7,07</text><text class="m" x="676" y="587">7,07</text><text class="m r" transform="translate(673 560)rotate(-90)">1837</text><text class="m r" transform="translate(680 560)rotate(-90)">20,00</text>
<text class="m" x="697" y="535">7,07</text><text class="m" x="697" y="587">7,07</text><text class="m r" transform="translate(694 560)rotate(-90)">1838</text><text class="m r" transform="translate(701 560)rotate(-90)">20,00</text>
<text class="m" x="717" y="535">7,07</text><text class="m" x="717" y="587">7,07</text><text class="m r" transform="translate(714 560)rotate(-90)">1839</text><text class="m r" transform="translate(721 560)rotate(-90)">20,00</text>
<text class="m" x="738" y="535">7,07</text><text class="m" x="738" y="587">7,07</text><text class="m r" transform="translate(735 560)rotate(-90)">1840</text><text class="m r" transform="translate(742 560)rotate(-90)">20,00</text>
<text class="m" x="758" y="535">7,07</text><text class="m" x="758" y="587">7,07</text><text class="m r" transform="translate(755 560)rotate(-90)">1841</text><text class="m r" transform="translate(762 560)rotate(-90)">20,00</text>
<text class="m" x="779" y="535">7,07</text><text class="m" x="779" y="587">7,07</text><text class="m r" transform="translate(776 560)rotate(-90)">1842</text><text class="m r" transform="translate(783 560)rotate(-90)">20,00</text>
<text class="m" x="800" y="535">7,07</text><text class="m" x="800" y="587">7,07</text><text class="m r" transform="translate(797 560)rotate(-90)">1843</text><text class="m r" transform="translate(804 560)rotate(-90)">20,00</text>
<text class="m" x="821" y="535">7,07</text><text class="m" x="821" y="587">7,07</text><text class="m r" transform="translate(818 560)rotate(-90)">1844</text><text class="m r" transform="translate(825 560)rotate(-90)">20,00</text>
<text class="m" x="841" y="535">7,07</text><text class="m" x="841" y="587">7,07</text><text class="m r" transform="translate(838 560)rotate(-90)">1845</text><text class="m r" transform="translate(845 560)rotate(-90)">20,00</text>
<text class="m" x="862" y="535">7,07</text><text class="m" x="862" y="587">7,07</text><text class="m r" transform="translate(859 560)rotate(-90)">1846</text><text class="m r" transform="translate(866 560)rotate(-90)">20,00</text>
<text class="m" x="882" y="535">7,07</text><text class="m" x="882" y="587">7,07</text><text class="m r" transform="translate(879 560)rotate(-90)">1847</text><text class="m r" transform="translate(886 560)rotate(-90)">20,00</text>
<text class="m" x="903" y="535">7,07</text><text class="m" x="903" y="587">7,07</text><text class="m r" transform="translate(900 560)rotate(-90)">1848</text><text class="m r" transform="translate(907 560)rotate(-90)">20,00</text>
<text class="m" x="928" y="535">9,07</text><text class="m" x="922" y="587">4,07</text><text class="m" x="930" y="560">1849</text><text class="m r" transform="translate(939 550)rotate(-90)">15,00</text><text class="m r" transform="translate(918 552)rotate(-90)">191 . 11 . 20</text>
<text class="m r" transform="translate(526 556)rotate(-90)">191 . 11 . 20</text>
<text class="m" x="697" y="581">101  .  11  .  20</text>
</g>

<!-- Halite crossing labels -->
<g>
<text class="e" x="948" y="104">E1488</text><text class="m" x="965" y="103">20,00</text><text class="e" x="983" y="104">E1487</text><text class="m" x="957" y="112">16,00</text><text class="e" x="975" y="112">RM4</text><text class="e" x="953" y="121">E1348</text><text class="e" x="978" y="121">E1347</text>
<text class="m" x="965" y="575">16,00</text><text class="e" x="951" y="582">E867</text><text class="e" x="978" y="582">E866</text><text class="e" x="934" y="597">E868</text><text class="e" x="991" y="593">RM2</text><text class="e" x="1012" y="598">E865</text><text class="e" x="1258" y="600">E870</text>
</g>

<!-- ============ BLOCK C ============ -->
<g>
<text class="n" x="1013" y="140">1965</text><text class="n" x="1061" y="138">1964</text><text class="n" x="1110" y="139">1963</text><text class="n" x="1159" y="139">1962</text><text class="n" x="1207" y="139">1961</text><text class="n" x="1253" y="139">1960</text>
<text class="m" x="1025" y="105">12,25</text><text class="m" x="1063" y="105">16,25</text><text class="m" x="1110" y="105">16,25</text><text class="m" x="1158" y="105">16,25</text><text class="m" x="1206" y="105">16,25</text><text class="m" x="1253" y="105">16,25</text>
<text class="m" x="1015" y="171">17,25</text><text class="m" x="1063" y="171">16,25</text><text class="m" x="1110" y="171">16,25</text><text class="m" x="1158" y="171">16,25</text><text class="m" x="1206" y="171">16,25</text><text class="m" x="1253" y="171">16,25</text>
<text class="m r" transform="translate(991 142)rotate(-90)">20,00</text><text class="m r" transform="translate(1043 136)rotate(-90)">25,00</text><text class="m r" transform="translate(1091 136)rotate(-90)">25,00</text><text class="m r" transform="translate(1138 136)rotate(-90)">25,00</text><text class="m r" transform="translate(1186 136)rotate(-90)">25,00</text><text class="m r" transform="translate(1233 136)rotate(-90)">25,00</text><text class="m r" transform="translate(1036 134)rotate(-90)">11 . 11 . 20</text>

<text class="n" x="1017" y="193">1968</text><text class="n" x="1017" y="233">1967</text><text class="n" x="1068" y="203">1924</text><text class="n" x="1110" y="205">1925</text><text class="n" x="1152" y="205">1926</text><text class="n" x="1192" y="203">1927</text><text class="n" x="1235" y="205">1928</text><text class="n" x="1275" y="205">1929</text>
<text class="m" x="1017" y="178">20,00</text><text class="m" x="1068" y="178">14,41</text><text class="m" x="1110" y="178">14,31</text><text class="m" x="1152" y="178">14,31</text><text class="m" x="1192" y="178">14,31</text><text class="m" x="1235" y="178">14,31</text><text class="m" x="1275" y="178">14,31</text>
<text class="m" x="1017" y="208">20,00</text><text class="m" x="1017" y="214">291 . 11 . 00</text><text class="m" x="1210" y="188">291  .  11  .  20</text>
<text class="m" x="1110" y="231">12,81</text><text class="m" x="1152" y="231">14,31</text><text class="m" x="1192" y="231">14,31</text><text class="m" x="1235" y="231">14,31</text><text class="m" x="1185" y="225">101  .  11  .  20</text><text class="m" x="1099" y="238">4,10</text>
<text class="m r" transform="translate(993 193)rotate(-90)">12,27</text><text class="m r" transform="translate(1042 193)rotate(-90)">12,27</text><text class="m r" transform="translate(993 232)rotate(-90)">14,50</text><text class="m r" transform="translate(1042 232)rotate(-90)">14,50</text><text class="m r" transform="translate(1050 215)rotate(-90)">26,77</text><text class="m r" transform="translate(1085 200)rotate(-90)">18,60</text><text class="m r" transform="translate(1094 200)rotate(-90)">191 . 11 . 20</text>
<text class="m r" transform="translate(1127 203)rotate(-90)">20,00</text><text class="m r" transform="translate(1168 203)rotate(-90)">20,00</text><text class="m r" transform="translate(1210 203)rotate(-90)">20,00</text><text class="m r" transform="translate(1253 203)rotate(-90)">20,00</text>
<text class="m" x="1017" y="250">Servitude  3,00</text><text class="m" x="1073" y="250">metres  wide</text>

<text class="e" x="1133" y="241">E1345</text><text class="e" x="1161" y="259">E881</text><text class="e" x="1139" y="264">RM3</text><text class="e" x="1256" y="259">E880</text><text class="e" x="1121" y="281">E882</text><text class="e" x="1125" y="432">E875</text><text class="e" x="1153" y="452">E876</text><text class="e" x="1129" y="473">E1361</text><text class="e" x="1270" y="473">E874</text><text class="e" x="1271" y="451">E873</text>

<text class="n" x="1208" y="312">1976</text><text class="n" x="1210" y="398">1975</text>
<text class="m" x="1208" y="268">38,68</text><text class="m" x="1208" y="274">291 . 11 . 20</text><text class="m" x="1208" y="361">49,05</text><text class="m" x="1208" y="436">101 . 11 . 20</text><text class="m" x="1208" y="442">39,13</text>
<text class="m r" transform="translate(1140 313)rotate(-90)">26,00</text><text class="m r" transform="translate(1275 313)rotate(-90)">26,00</text><text class="m r" transform="translate(1140 395)rotate(-90)">25,76</text><text class="m r" transform="translate(1275 395)rotate(-90)">25,76</text>
<text class="m r" transform="translate(1145 345)rotate(-90)">191 . 11 . 00</text><text class="m r" transform="translate(1270 345)rotate(-90)">11 . 11 . 00</text>
<text class="m" transform="translate(1152 274)rotate(-45)">7,07</text><text class="m" transform="translate(1144 436)rotate(45)">7,07</text>

<text class="n" x="1017" y="276">1966</text><text class="n" x="1077" y="276">1923</text><text class="n" x="1017" y="314">1969</text><text class="n" x="1077" y="314">1922</text><text class="n" x="1017" y="354">1970</text><text class="n" x="1077" y="354">1921</text><text class="n" x="1017" y="394">1971</text><text class="n" x="1077" y="394">1920</text><text class="n" x="1017" y="435">1972</text><text class="n" x="1077" y="435">1919</text><text class="n" x="1017" y="476">1973</text><text class="n" x="1077" y="476">1918</text><text class="n" x="1015" y="516">1974</text><text class="n" x="1077" y="514">1917</text>
<text class="m" x="1017" y="256">20,00</text><text class="m" x="1073" y="256">20,00</text><text class="m" x="1030" y="262">291 . 11 . 00</text>
<text class="m" x="1017" y="290">20,00</text><text class="m" x="1077" y="290">20,00</text><text class="m" x="1017" y="330">20,00</text><text class="m" x="1077" y="330">20,00</text><text class="m" x="1017" y="371">20,00</text><text class="m" x="1077" y="371">20,00</text><text class="m" x="1017" y="411">20,00</text><text class="m" x="1077" y="411">20,00</text><text class="m" x="1017" y="452">20,00</text><text class="m" x="1077" y="452">20,00</text><text class="m" x="1017" y="493">20,00</text><text class="m" x="1077" y="493">18,50</text><text class="m" x="1017" y="527">20,00</text><text class="m" x="1077" y="527">24,00</text><text class="m" x="1030" y="499">291 . 11 . 00</text>
<text class="m r" transform="translate(992 276)rotate(-90)">13,60</text><text class="m r" transform="translate(992 314)rotate(-90)">13,60</text><text class="m r" transform="translate(992 354)rotate(-90)">13,60</text><text class="m r" transform="translate(992 394)rotate(-90)">13,60</text><text class="m r" transform="translate(992 435)rotate(-90)">13,60</text><text class="m r" transform="translate(992 476)rotate(-90)">14,60</text><text class="m r" transform="translate(992 516)rotate(-90)">12,28</text>
<text class="m r" transform="translate(1050 276)rotate(-90)">13,60</text><text class="m r" transform="translate(1050 314)rotate(-90)">13,60</text><text class="m r" transform="translate(1050 354)rotate(-90)">13,60</text><text class="m r" transform="translate(1050 394)rotate(-90)">13,60</text><text class="m r" transform="translate(1050 435)rotate(-90)">13,60</text><text class="m r" transform="translate(1050 476)rotate(-90)">14,60</text><text class="m r" transform="translate(1050 514)rotate(-90)">12,28</text>
<text class="m r" transform="translate(1101 276)rotate(-90)">15,60</text><text class="m r" transform="translate(1101 314)rotate(-90)">13,60</text><text class="m r" transform="translate(1101 354)rotate(-90)">13,60</text><text class="m r" transform="translate(1101 394)rotate(-90)">13,60</text><text class="m r" transform="translate(1101 435)rotate(-90)">13,60</text><text class="m r" transform="translate(1101 472)rotate(-90)">13,60</text>
<text class="m r" transform="translate(1000 310)rotate(-90)">11 . 00</text><text class="m r" transform="translate(1058 312)rotate(-90)">11 . 00</text><text class="m r" transform="translate(1097 360)rotate(-90)">11 . 00</text>

<text class="n" x="1135" y="505">1916</text><text class="n" x="1175" y="505">1915</text><text class="n" x="1215" y="505">1914</text><text class="n" x="1251" y="505">1913</text>
<text class="m" x="1110" y="480">4,00</text><text class="m" x="1135" y="480">13,42</text><text class="m" x="1175" y="480">13,43</text><text class="m" x="1215" y="480">13,43</text><text class="m" x="1245" y="480">10,39</text><text class="m" x="1175" y="486">291  .  11  .  20</text>
<text class="m r" transform="translate(1118 505)rotate(-90)">20,00</text><text class="m r" transform="translate(1158 505)rotate(-90)">20,00</text><text class="m r" transform="translate(1197 505)rotate(-90)">20,00</text><text class="m r" transform="translate(1236 505)rotate(-90)">20,00</text>

<text class="n" x="1011" y="563">1906</text><text class="n" x="1054" y="563">1907</text><text class="n" x="1095" y="563">1908</text><text class="n" x="1135" y="563">1909</text><text class="n" x="1175" y="563">1910</text><text class="n" x="1216" y="563">1911</text><text class="n" x="1260" y="563">1912</text>
<text class="m" x="1010" y="535">16,00</text><text class="m" x="1054" y="535">14,00</text><text class="m" x="1095" y="535">14,00</text><text class="m" x="1137" y="535">13,42</text><text class="m" x="1176" y="535">13,43</text><text class="m" x="1215" y="535">13,43</text><text class="m" x="1260" y="535">15,43</text>
<text class="m" x="1025" y="588">11,00</text><text class="m" x="1054" y="588">14,00</text><text class="m" x="1095" y="588">14,00</text><text class="m" x="1131" y="588">13,42</text><text class="m" x="1176" y="588">13,43</text><text class="m" x="1215" y="588">13,43</text><text class="m" x="1247" y="588">10,48</text><text class="m" x="1135" y="583">101  .  11  .  20</text>
<text class="m r" transform="translate(991 553)rotate(-90)">15,00</text><text class="m r" transform="translate(1032 562)rotate(-90)">20,00</text><text class="m r" transform="translate(1072 562)rotate(-90)">20,00</text><text class="m r" transform="translate(1113 562)rotate(-90)">20,00</text><text class="m r" transform="translate(1153 562)rotate(-90)">20,00</text><text class="m r" transform="translate(1194 562)rotate(-90)">20,00</text><text class="m r" transform="translate(1234 562)rotate(-90)">20,00</text>
<text class="m r" transform="translate(1038 562)rotate(-90)">191 . 11 . 20</text><text class="m r" transform="translate(1078 562)rotate(-90)">191 . 11 . 20</text><text class="m r" transform="translate(1119 562)rotate(-90)">191 . 11 . 20</text><text class="m r" transform="translate(1275 563)rotate(-90)">15,00</text>
</g>

<!-- Cosmos road dims -->
<g>
<text class="m" x="88" y="617">101  .  11  .  20</text><text class="m" x="88" y="624">45,00</text>
<text class="m" x="327" y="617">101  .  11  .  20</text><text class="m" x="327" y="624">77,00</text>
<text class="m" x="712" y="619">101  .  11  .  20</text><text class="m" x="712" y="626">142,50</text>
<text class="m" x="1212" y="619">101  .  11  .  20</text><text class="m" x="1212" y="626">148,78</text>
<text class="m" x="185" y="633">101.11.20</text><text class="m" x="185" y="639">10,50</text>
<text class="m" x="473" y="633">101.11.20</text><text class="m" x="473" y="639">13,00</text>
<text class="m" x="962" y="634">101.11.20</text><text class="m" x="962" y="640">16,00</text>
<text class="m r" transform="translate(32 605)rotate(-90)">13,00</text><text class="m r" transform="translate(37 605)rotate(-90)">191 . 11 . 00</text>
<text class="m r" transform="translate(431 606)rotate(-90)">11 . 11 . 00</text><text class="m r" transform="translate(437 606)rotate(-90)">13,00</text>
<text class="m r" transform="translate(514 606)rotate(-90)">13,00</text><text class="m r" transform="translate(519 606)rotate(-90)">191 . 11 . 00</text>
<text class="m r" transform="translate(915 607)rotate(-90)">11 . 11 . 00</text><text class="m r" transform="translate(921 607)rotate(-90)">13,00</text>
<text class="m r" transform="translate(1007 608)rotate(-90)">13,00</text><text class="m r" transform="translate(1012 608)rotate(-90)">191 . 11 . 00</text>
<text class="m" transform="translate(162 632)rotate(45)">7,07</text><text class="m" transform="translate(211 632)rotate(-45)">7,07</text>
<text class="m" transform="translate(447 632)rotate(45)">7,07</text><text class="m" transform="translate(505 632)rotate(-45)">7,07</text>
<text class="m" transform="translate(930 632)rotate(45)">7,07</text><text class="m" transform="translate(996 632)rotate(-45)">7,07</text>
</g>
</svg>
</body></html>
